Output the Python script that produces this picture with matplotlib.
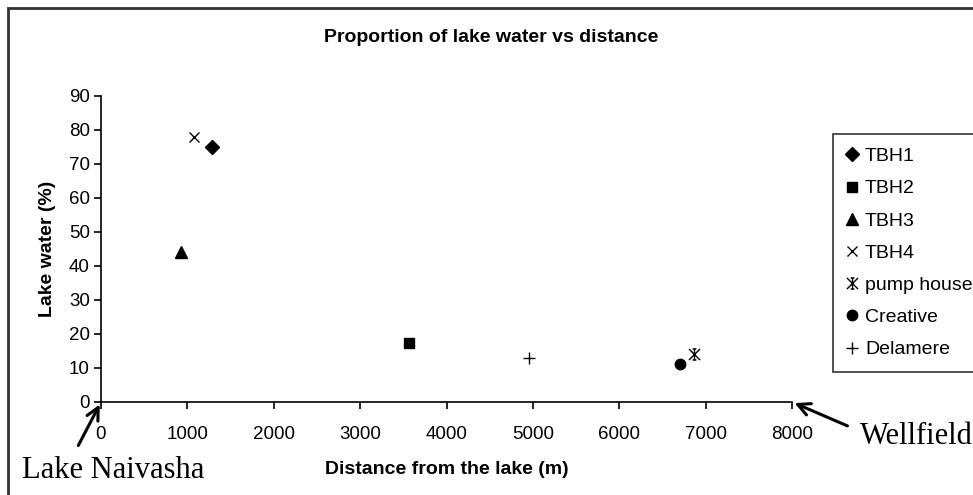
import matplotlib.pyplot as plt
from matplotlib.path import Path
from matplotlib.patches import Rectangle

# sampling sites: distance from the lake shore (m) and share of lake water (%)
sites = ['TBH1', 'TBH2', 'TBH3', 'TBH4', 'pump house', 'Creative', 'Delamere']
distance = [1290, 3570, 930, 1080, 6870, 6700, 4960]
lake_water = [75, 17.5, 44, 78, 14, 11.3, 13]

x_ticks = [0, 1000, 2000, 3000, 4000, 5000, 6000, 7000, 8000]
y_ticks = [0, 10, 20, 30, 40, 50, 60, 70, 80, 90]

# star marker: an X with a capped vertical bar through it
star = Path([(-1, -1), (1, 1), (-1, 1), (1, -1), (0, -1), (0, 1),
             (-0.35, 1), (0.35, 1), (-0.35, -1), (0.35, -1)],
            [Path.MOVETO, Path.LINETO] * 5)

styles = {
    'TBH1': dict(marker='D', ms=7.5),
    'TBH2': dict(marker='s', ms=7),
    'TBH3': dict(marker='^', ms=8),
    'TBH4': dict(marker='x', ms=7, mew=1),
    'pump house': dict(marker=star, ms=8, mew=1, mfc='none'),
    'Creative': dict(marker='o', ms=7.5),
    'Delamere': dict(marker='+', ms=9, mew=1),
}

plt.rcParams['font.family'] = ['Liberation Sans', 'DejaVu Sans']

fig = plt.figure(figsize=(9.73, 4.95), dpi=100)
ax = fig.add_axes([101 / 973, 1 - 402 / 495, 691 / 973, 306 / 495])

for name, d, w in zip(sites, distance, lake_water):
    ax.plot([d], [w], linestyle='none', color='black', label=name, **styles[name])

ax.set_xlim(0, 8000)
ax.set_ylim(0, 90)
ax.set_xticks(x_ticks)
ax.set_yticks(y_ticks)
ax.tick_params(labelsize=13.5, length=5, width=1.2, colors='black')
ax.tick_params(axis='x', pad=12)
ax.tick_params(axis='y', pad=3)
ax.spines['top'].set_visible(False)
ax.spines['right'].set_visible(False)
for side in ['left', 'bottom']:
    ax.spines[side].set_linewidth(1.2)

ax.set_xlabel('Distance from the lake (m)', fontsize=14, fontweight='bold', labelpad=13)
ax.set_ylabel('Lake water (%)', fontsize=14, fontweight='bold', labelpad=9)
fig.text(491 / 973, 1 - 38 / 495, 'Proportion of lake water vs distance',
         ha='center', va='center', fontsize=14, fontweight='bold')

# legend box is wider than the figure, so its right side runs off the edge
leg = ax.legend(loc='upper left', bbox_to_anchor=(833 / 973, 1 - 134 / 495, 0.2, 0),
                bbox_transform=fig.transFigure, mode='expand', fontsize=14,
                frameon=True, fancybox=False, edgecolor='black', handlelength=0.6,
                handletextpad=0.35, labelspacing=0.75, borderpad=0.7,
                borderaxespad=0)
leg.get_frame().set_linewidth(1.2)

# arrows pointing at the lake shore and the wellfield
arrow = dict(arrowstyle='->', lw=2.2, color='black', mutation_scale=22)
ax.annotate('', xy=(0, 0), xytext=(77, 495 - 448), textcoords='figure pixels',
            arrowprops=arrow, annotation_clip=False)
ax.annotate('', xy=(8000, 0), xytext=(850, 495 - 427), textcoords='figure pixels',
            arrowprops=arrow, annotation_clip=False)
fig.text(22 / 973, 1 - 471 / 495, 'Lake Naivasha', family='Liberation Serif',
         fontsize=22, ha='left', va='center')
fig.text(860 / 973, 1 - 437 / 495, 'Wellfield', family='Liberation Serif',
         fontsize=22, ha='left', va='center')

# chart border running off the right and bottom edges
fig.patches.append(Rectangle((8 / 973, -0.2), 1.2, 1.2 - 8 / 495,
                             transform=fig.transFigure, fill=False,
                             edgecolor='#333333', lw=2))

fig.savefig('out.png', dpi=100)
